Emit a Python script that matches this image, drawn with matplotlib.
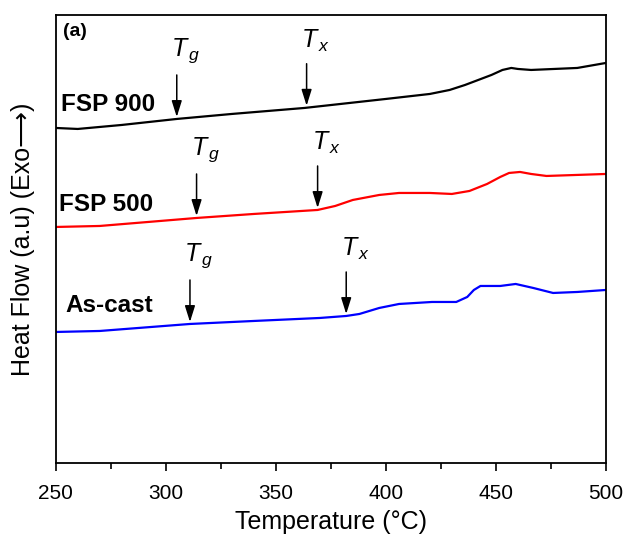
import matplotlib
matplotlib.use("Agg")
import matplotlib.pyplot as plt
import numpy as np

plt.rcParams['font.family'] = ['Liberation Sans', 'DejaVu Sans']
plt.rcParams['mathtext.fontset'] = 'custom'
plt.rcParams['mathtext.it'] = 'Liberation Sans:italic'
plt.rcParams['mathtext.rm'] = 'Liberation Sans'

# Temperatures (°C) and heat flow (arbitrary units)
t_fsp900 = [250, 260, 280, 305, 330, 363, 400, 420, 429, 436, 442, 448, 453, 457, 460, 466, 487, 500]
h_fsp900 = [335, 334, 338, 344, 349, 355, 364, 369, 373, 378, 383, 388, 393, 395, 394, 393, 395, 400]

t_fsp500 = [250, 270, 314, 340, 369, 377, 385, 397, 406, 420, 430, 438, 446, 452, 456, 461, 466, 473, 500]
h_fsp500 = [236, 237, 245, 249, 253, 257, 263, 268, 270, 270, 269, 272, 279, 286, 290, 291, 289, 287, 289]

t_ascast = [250, 270, 311, 340, 370, 382, 388, 397, 406, 421, 432, 437, 440, 443, 452, 459, 467, 476, 487, 500]
h_ascast = [131, 132, 139, 142, 145, 147, 149, 155, 159, 161, 161, 166, 173, 177, 177, 179, 175, 170, 171, 173]

labels = ["FSP 900", "FSP 500", "As-cast"]
colors = ["black", "red", "blue"]
tg = [305, 314, 311]
tx = [364, 369, 382]

fig = plt.figure(figsize=(6.24, 5.34), dpi=100)
ax = fig.add_axes([0.0893, 0.133, 0.8817, 0.839])

series = [(t_fsp900, h_fsp900), (t_fsp500, h_fsp500), (t_ascast, h_ascast)]
label_pos = [(252.5, 358), (251.5, 258), (254.5, 157)]
for (t, h), lab, c, g, x, lp in zip(series, labels, colors, tg, tx, label_pos):
    ax.plot(t, h, color=c, lw=1.6)
    ax.text(lp[0], lp[1], lab, fontsize=17.5, fontweight='bold', va='center', ha='left')
    for temp, sym in ((g, 'g'), (x, 'x')):
        yt = np.interp(temp, t, h) + 2
        ax.annotate('', xy=(temp, yt), xytext=(temp, yt + 42),
                    arrowprops=dict(arrowstyle='-|>,head_length=0.7,head_width=0.22',
                                    color='black', lw=1.1,
                                    mutation_scale=14, shrinkA=0, shrinkB=0))
        ax.text(temp - 2.5, yt + 52, r'$T_{\,%s}$' % sym, fontsize=18, ha='left', va='bottom')

ax.text(253.5, 431, '(a)', fontsize=14, fontweight='bold', va='center', ha='left')

ax.set_xlim(250, 500)
ax.set_ylim(0, 448)
ax.set_xticks([250, 300, 350, 400, 450, 500])
ax.set_xticks([275, 325, 375, 425, 475], minor=True)
ax.tick_params(axis='x', which='major', direction='out', length=6, width=1.2, labelsize=15, pad=9)
ax.tick_params(axis='x', which='minor', direction='out', length=4, width=1.2)
ax.set_yticks([])
for s in ax.spines.values():
    s.set_linewidth(1.3)
ax.set_xlabel('Temperature (°C)', fontsize=18, labelpad=5)
ax.set_ylabel('Heat Flow (a.u) (Exo\u27f6)', fontsize=18, labelpad=15)

fig.savefig('out.png', dpi=100)
